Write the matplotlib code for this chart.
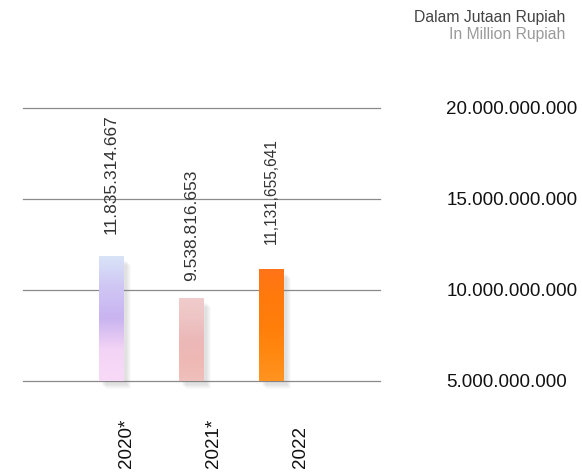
import numpy as np
import matplotlib
matplotlib.use("Agg")
from matplotlib import pyplot as plt
from matplotlib.colors import LinearSegmentedColormap
from matplotlib.patches import Rectangle

plt.rcParams['font.family'] = ['Liberation Sans', 'DejaVu Sans']

years = ['2020*', '2021*', '2022']
values = [11835314667, 9538816653, 11131655641]
value_labels = ['11.835.314.667', '9.538.816.653', '11,131,655,641']
yticks = [5e9, 10e9, 15e9, 20e9]
ytick_labels = ['5.000.000.000', '10.000.000.000', '15.000.000.000', '20.000.000.000']

# gradient colours for each bar (top -> bottom)
bar_colors = [
    ['#d9e4f8', '#cfc6f4', '#c9b4f0', '#f4d4f6', '#f8daf8'],
    ['#f0cccc', '#eec4c4', '#ecb8b8', '#eeb8b4', '#f0c0bc'],
    ['#ff7418', '#ff7a0c', '#ff7e0a', '#ff8810', '#ff9420'],
]
label_offsets = [23, 17, 25]
label_sizes = [12.5, 12.5, 11.2]

fig = plt.figure(figsize=(5.82, 4.75), dpi=100)
ax = fig.add_axes([0.0395, 0.198, 0.613, 0.5747])

base = 5e9
width = 0.31
x = np.arange(len(years))

for v in yticks:
    ax.axhline(v, color='#8a8a8a', lw=0.9, zorder=1, clip_on=False)

for i, v in enumerate(values):
    # soft shadow
    for k, a in enumerate([0.05, 0.05, 0.05, 0.04, 0.03]):
        ax.add_patch(Rectangle((x[i] - width / 2 + 0.04 + k * 0.012, base - 0.25e9 - k * 0.05e9),
                               width, v - base, color='#777777', alpha=a, lw=0, zorder=2,
                               clip_on=False))
    cmap = LinearSegmentedColormap.from_list('b%d' % i, bar_colors[i])
    grad = np.linspace(0, 1, 256).reshape(-1, 1)
    ax.imshow(grad, cmap=cmap, aspect='auto', origin='upper',
              extent=(x[i] - width / 2, x[i] + width / 2, base, v), zorder=3)
    ax.annotate(value_labels[i], (x[i], v), xytext=(0, label_offsets[i]),
                textcoords='offset pixels', rotation=90, ha='center', va='bottom',
                fontsize=label_sizes[i], color='#333333', zorder=4)
    ax.text(0.19 + x[i] * 1.085, -0.319, years[i], transform=ax.get_xaxis_transform(),
            rotation=90, ha='center', va='bottom', fontsize=13.5, color='#111111')

ax.set_xlim(-1.106, 3.356)
ax.set_ylim(base, 20e9)
ax.yaxis.tick_right()
ax.set_yticks(yticks)
ax.set_yticklabels(ytick_labels, fontsize=13.5, color='#111111')
ax.tick_params(axis='y', length=0, pad=48)
ax.set_xticks([])
for s in ax.spines.values():
    s.set_visible(False)

fig.text(0.972, 0.964, 'Dalam Jutaan Rupiah', ha='right', va='center', fontsize=11.3, color='#444444')
fig.text(0.972, 0.928, 'In Million Rupiah', ha='right', va='center', fontsize=11.3, color='#9a9a9a')

fig.savefig('out.png', dpi=100)
